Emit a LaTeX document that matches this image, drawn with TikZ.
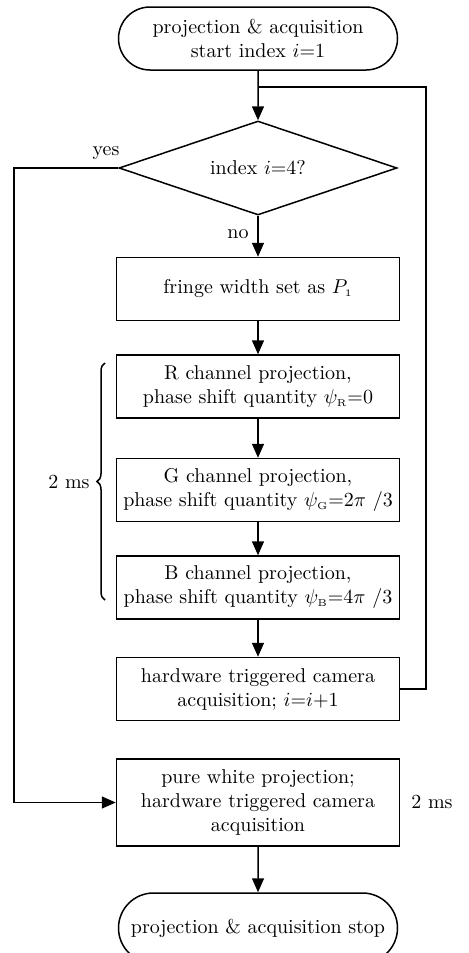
\documentclass[tikz,border=0pt]{standalone}
\usepackage{amsmath,amssymb}
\usetikzlibrary{arrows.meta, shapes.geometric, shapes.misc, decorations.pathreplacing}
\tikzset{%
    ln/.style={line width = 0.75pt},
    lna/.style={line width = 0.75pt, -{Triangle[width=6pt,length=7pt]}},
    blk/.style={rectangle, draw, line width=0.75pt, minimum width=141.5pt, minimum height=31.5pt, inner sep=1pt, align=center},
    term/.style={rounded rectangle, draw, line width=0.75pt, minimum width=141.5pt, minimum height=31.5pt, inner sep=1pt, align=center},
    dec/.style={diamond, draw, line width=0.75pt, aspect=2.96, minimum width=139pt, minimum height=47pt, inner sep=0pt, align=center},
}

\begin{document}
\begin{tikzpicture}[x=0.5pt, y=-0.5pt]
    \useasboundingbox (0,0) rectangle (469,953);
    \node [term] (start) at (258,38.5) {projection \& acquisition\\start index $i$=1};
    \node [dec] (test) at (258,168) {index $i$=4?};
    \node [blk] (fringe) at (258,289) {fringe width set as $P_{\scriptscriptstyle 1}$};
    \node [blk] (chR) at (258,386.5) {R channel projection,\\ phase shift quantity $\psi_{\scriptscriptstyle\mathrm{R}}$=0};
    \node [blk] (chG) at (258,490) {G channel projection,\\ phase shift quantity $\psi_{\scriptscriptstyle\mathrm{G}}$=2$\pi$~/3};
    \node [blk] (chB) at (258,587.5) {B channel projection,\\ phase shift quantity $\psi_{\scriptscriptstyle\mathrm{B}}$=4$\pi$~/3};
    \node [blk] (acq) at (258,689) {hardware triggered camera\\acquisition; $i$=$i$+1};
    \node [blk, minimum height=43.5pt] (white) at (258,802.5) {pure white projection;\\hardware triggered camera\\acquisition};
    \node [term, minimum height=35pt] (stop) at (258,928) {projection \& acquisition stop};
    \coordinate (loop) at (426,87);
    \coordinate (side) at (14,168);
    \coordinate (btop) at (105,363);
    \coordinate (bbot) at (105,600);
    % main line
    \draw [lna] (start) -- (test);
    \draw [lna] (test) -- (fringe) node[pos=0.45, left=1pt]{no};
    \draw [lna] (fringe) -- (chR);
    \draw [lna] (chR) -- (chG);
    \draw [lna] (chG) -- (chB);
    \draw [lna] (chB) -- (acq);
    \draw [lna] (white) -- (stop);
    % loop back and exit
    \draw [ln] (acq.east) -| (loop) -- (loop -| test.north);
    \draw [lna] (test.west) -- (side) |- (white.west);
    \node (yes) at (106,153) {yes};
    \node (tms) at (432,802) {2 ms};
    \draw [ln, decorate, decoration={brace, amplitude=4pt}] (bbot) -- (btop) node[midway, left=4pt] (bms) {2 ms};
\end{tikzpicture}
\end{document}
